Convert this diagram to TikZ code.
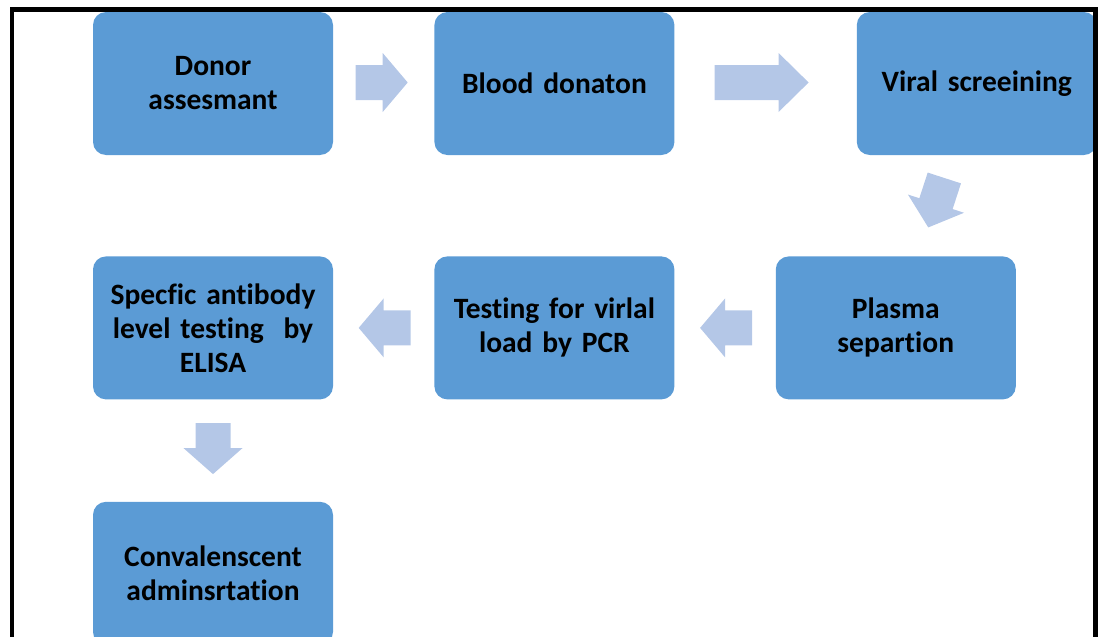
\documentclass[tikz,border=0pt]{standalone}
\usepackage{fontspec}
\setmainfont{Carlito}[Ligatures=NoCommon, WordSpace=0.85]
\usetikzlibrary{positioning,calc}
\definecolor{boxblue}{HTML}{5B9BD5}
\definecolor{arrowblue}{HTML}{B4C7E7}

% block arrow: centre, angle, length, head length
\newcommand{\flowarrow}[4]{%
  \fill[arrowblue, shift={#1}, rotate=#2]
    ({-#3/2},-17.5) -- ({#3/2-#4},-17.5) -- ({#3/2-#4},-29.5) -- ({#3/2},0)
    -- ({#3/2-#4},29.5) -- ({#3/2-#4},17.5) -- ({-#3/2},17.5) -- cycle;}

\begin{document}
\begin{tikzpicture}[
  x=1pt, y=-1pt,
  stage/.style={fill=boxblue, rounded corners=13pt, minimum width=240pt,
                minimum height=143pt, text width=234pt, align=center, inner sep=0pt,
                font=\bfseries\fontsize{29.5}{34}\selectfont},
  frame/.style={line width=4.5pt, line join=miter},
]
\useasboundingbox (0,0) rectangle (1104,637);
\clip (0,0) rectangle (1104,637);

% ---------- first row ----------
\node[stage] (donor) at (213,83.5) {Donor\\assesmant};
\node[stage, right=101pt of donor] (blood) {Blood donaton};
\node[stage, right=182pt of blood] (viral) {Viral screeining};

% ---------- second row ----------
\node[stage, below=101pt of donor] (elisa) {Specfic antibody\\level testing\ \ by\\ELISA};
\node[stage, right=101pt of elisa] (pcr) {Testing for virlal\\load by PCR};
\node[stage, right=101pt of pcr] (plasma) {Plasma\\separtion};

% ---------- last step ----------
\node[stage, below=102pt of elisa] (conv) {Convalenscent\\adminsrtation};

% ---------- arrows ----------
\flowarrow{($(donor.east)!0.5!(blood.west)+(-2,-1)$)}{0}{52}{25}
\flowarrow{($(blood.east)!0.5!(viral.west)+(-4,-1)$)}{0}{94}{30}
\flowarrow{($(viral.south)!0.5!(plasma.north)+(0,-3)$)}{-108}{52}{25}
\flowarrow{($(plasma.west)!0.5!(pcr.east)+(1,0)$)}{180}{52}{25}
\flowarrow{($(pcr.west)!0.5!(elisa.east)+(1,0)$)}{180}{52}{25}
\flowarrow{($(elisa.south)!0.5!(conv.north)+(0,-2)$)}{-90}{51}{26}

% ---------- frame ----------
\draw[frame] (12,640) -- (12,9.5) -- (1095.5,9.5) -- (1095.5,640);
\end{tikzpicture}
\end{document}
